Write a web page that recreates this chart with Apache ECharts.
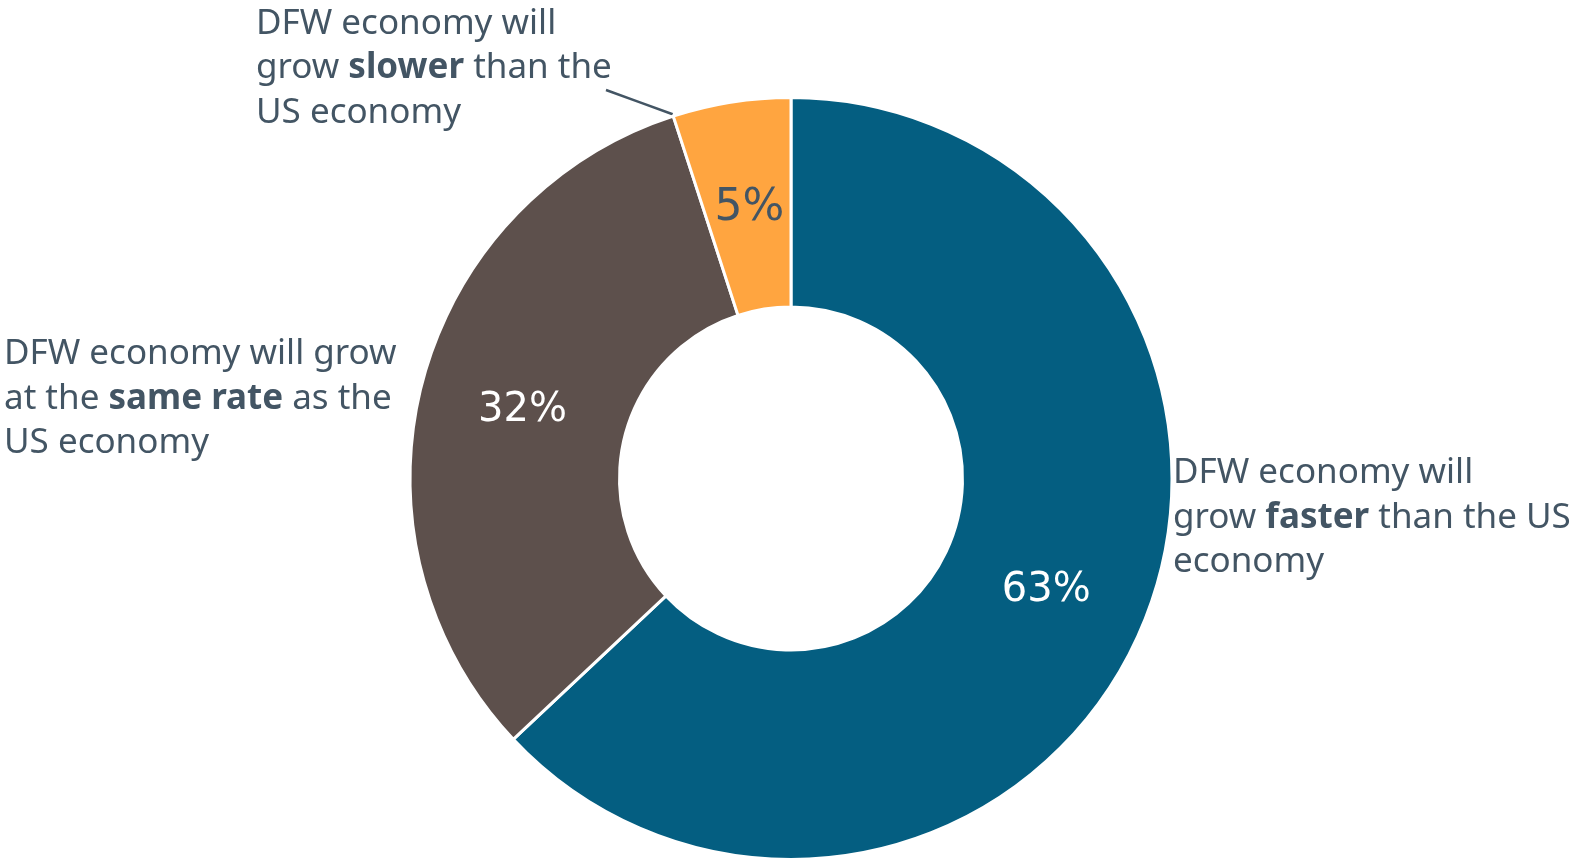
<!DOCTYPE html>
<html>
<head>
<meta charset="utf-8">
<script src="https://cdn.jsdelivr.net/npm/echarts@6/dist/echarts.min.js"></script>
<style>
html, body { margin: 0; padding: 0; background: #ffffff; }
#chart { width: 1570px; height: 865px; }
</style>
</head>
<body>
<div id="chart"></div>
<script>
// ---- data ----
const categories = ['Faster', 'Same rate', 'Slower'];
const values = [63, 32, 5];
const percentLabels = ['63%', '32%', '5%'];
const descriptions = [
  'DFW economy will\ngrow {b|faster} than the US\neconomy',
  'DFW economy will grow\nat the {b|same rate} as the\nUS economy',
  'DFW economy will\ngrow {b|slower} than the\nUS economy'
];

// ---- styles ----
const colors = ['#045E81', '#5D504C', '#FFA540'];
const pctColors = ['#ffffff', '#ffffff', '#435564'];
const pctSizes = [40, 40, 44];
const pctOffsets = [[-1, 1], [2, 2], [2, 6]];
const textColor = '#435564';
const center = [791, 478.5];
const radius = [171.5, 381];
const labelAnchors = [[1173, 518], [4, 399], [256, 68.5]];

const chart = echarts.init(document.getElementById('chart'), null, { renderer: 'canvas' });

const innerData = categories.map((c, i) => ({
  name: c,
  value: values[i],
  itemStyle: { color: colors[i] },
  label: { color: pctColors[i], fontSize: pctSizes[i], offset: pctOffsets[i], formatter: percentLabels[i] }
}));

const outerData = categories.map((c, i) => ({
  name: c,
  value: values[i],
  label: { formatter: descriptions[i] },
  labelLine: { show: i === 2 }
}));

chart.setOption({
  animation: false,
  backgroundColor: '#ffffff',
  series: [
    {
      type: 'pie',
      center: center,
      radius: radius,
      startAngle: 90,
      clockwise: true,
      silent: true,
      avoidLabelOverlap: false,
      itemStyle: { borderColor: '#ffffff', borderWidth: 3 },
      label: {
        show: true,
        position: 'inside',
        fontFamily: 'DejaVu Sans',
        fontSize: 40,
        fontWeight: 'normal'
      },
      labelLine: { show: false },
      data: innerData
    },
    {
      type: 'pie',
      center: center,
      radius: radius,
      startAngle: 90,
      clockwise: true,
      silent: true,
      avoidLabelOverlap: false,
      itemStyle: { color: 'rgba(0,0,0,0)', borderWidth: 0 },
      emphasis: { disabled: true },
      label: {
        show: true,
        position: 'outside',
        fontFamily: 'Noto Sans',
        fontSize: 35,
        lineHeight: 44.5,
        color: textColor,
        align: 'left',
        rich: {
          b: {
            fontFamily: 'Noto Sans',
            fontSize: 35,
            lineHeight: 44.5,
            fontWeight: 'bold',
            color: textColor
          }
        }
      },
      labelLine: {
        show: true,
        lineStyle: { color: textColor, width: 2.5 }
      },
      labelLayout: function (p) {
        const a = labelAnchors[p.dataIndex];
        const out = { x: a[0], y: a[1], align: 'left', verticalAlign: 'middle' };
        if (p.dataIndex === 2) {
          // leader from the outer edge at the slice start to beside the label
          const startDeg = 90 - (values[0] + values[1]) / values.reduce((s, v) => s + v, 0) * 360;
          const rad = startDeg * Math.PI / 180;
          const px = center[0] + (radius[1] + 2) * Math.cos(rad);
          const py = center[1] - (radius[1] + 2) * Math.sin(rad);
          out.labelLinePoints = [[px, py], [(px + 606) / 2, (py + 90) / 2], [606, 90]];
        }
        return out;
      },
      data: outerData
    }
  ]
});
</script>
</body>
</html>
